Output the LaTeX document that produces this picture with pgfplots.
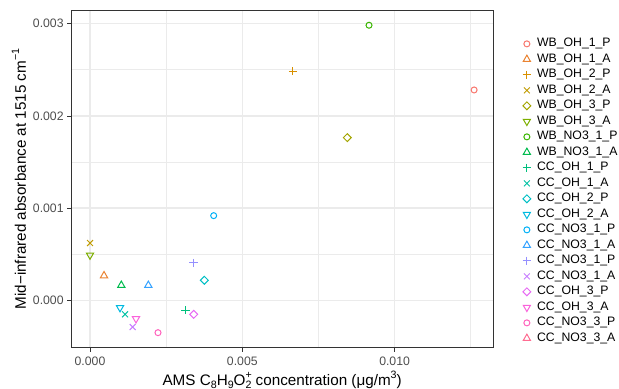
\documentclass[border=0pt]{standalone}
\usepackage{pgfplots}
\pgfplotsset{compat=1.18}
\usepackage{fontspec}
\setmainfont{Liberation Sans}
\definecolor{c1}{HTML}{F8766D}
\definecolor{c2}{HTML}{EA8331}
\definecolor{c3}{HTML}{D89000}
\definecolor{c4}{HTML}{C09B00}
\definecolor{c5}{HTML}{A3A500}
\definecolor{c6}{HTML}{7CAE00}
\definecolor{c7}{HTML}{39B600}
\definecolor{c8}{HTML}{00BB4E}
\definecolor{c9}{HTML}{00BF7D}
\definecolor{c10}{HTML}{00C1A3}
\definecolor{c11}{HTML}{00BFC4}
\definecolor{c12}{HTML}{00BAE0}
\definecolor{c13}{HTML}{00B0F6}
\definecolor{c14}{HTML}{35A2FF}
\definecolor{c15}{HTML}{9590FF}
\definecolor{c16}{HTML}{C77CFF}
\definecolor{c17}{HTML}{E76BF3}
\definecolor{c18}{HTML}{FA62DB}
\definecolor{c19}{HTML}{FF62BC}
\definecolor{c20}{HTML}{FF6C91}
\definecolor{grid92}{HTML}{EBEBEB}
\definecolor{grey20}{HTML}{333333}
\definecolor{grey30}{HTML}{4D4D4D}
\newcommand\subs[1]{\raisebox{-0.35ex}{\scalebox{0.7}{#1}}}
\newcommand\sups[1]{\raisebox{0.85ex}{\scalebox{0.7}{#1}}}
\pgfplotsset{
  mO/.style={only marks, mark=o, mark size=3bp, line width=1bp, color=#1, mark options={draw=#1, solid}},
  mT/.style={only marks, mark=triangle, mark size=4.2bp, line width=1bp, color=#1, mark options={draw=#1, solid}},
  mP/.style={only marks, mark=+, mark size=4.2bp, line width=1bp, color=#1, mark options={draw=#1, solid}},
  mX/.style={only marks, mark=x, mark size=4.2bp, line width=1bp, color=#1, mark options={draw=#1, solid}},
  mD/.style={only marks, mark=square, mark size=2.8bp, line width=1bp, color=#1, mark options={draw=#1, solid, rotate=45}},
  mV/.style={only marks, mark=triangle, mark size=4.2bp, line width=1bp, color=#1, mark options={draw=#1, solid, rotate=180}},
}
\begin{document}
\begin{tikzpicture}
\begin{axis}[
  at={(71bp,41.3bp)}, anchor=south west,
  scale only axis, width=422.3bp, height=337.4bp,
  xmin=-0.000624, xmax=0.01324, ymin=-0.000514, ymax=0.003145,
  scaled x ticks=false, scaled y ticks=false,
  xtick={0,0.005,0.01}, xticklabels={0.000,0.005,0.010},
  ytick={0,0.001,0.002,0.003}, yticklabels={0.000,0.001,0.002,0.003},
  minor xtick={0.0025,0.0075,0.0125}, minor ytick={0.0005,0.0015,0.0025},
  grid=both,
  major grid style={color=grid92, line width=1.3bp},
  minor grid style={color=grid92, line width=0.65bp},
  minor tick length=0pt, major tick length=3.85bp,
  tick align=outside, tick pos=left,
  major tick style={color=grey20, line width=0.7bp},
  axis line style={color=grey20, line width=1bp},
  ticklabel style={font=\fontsize{12.3}{14}\selectfont, color=grey30},
  xticklabel style={yshift=-2bp},
  /pgf/number format/assume math mode=true,
  xlabel={AMS C\subs{8}H\subs{9}O\makebox[0pt][l]{\sups{+}}\subs{2} concentration (μg/m\sups{3})},
  ylabel={Mid−infrared absorbance at 1515 cm\sups{−1}},
  label style={font=\fontsize{15.3}{17}\selectfont, color=black},
  xlabel style={yshift=1.5bp},
  ylabel style={yshift=0bp},
  legend style={at={(1.062,0.93)}, anchor=north west, draw=none, fill=none,
    font=\fontsize{12.3}{14}\selectfont, row sep=0pt, column sep=5bp,
    nodes={inner sep=1bp, text height=9.5bp, text depth=4bp},
    legend cell align=left},
  legend image code/.code={\draw[#1] plot coordinates {(0.1cm,0cm)};},
]
\addplot[mO=c1]  coordinates {(0.01261,0.002281)}; \addlegendentry{WB\_OH\_1\_P}
\addplot[mT=c2]  coordinates {(0.00046,0.000267)}; \addlegendentry{WB\_OH\_1\_A}
\addplot[mP=c3]  coordinates {(0.006664,0.002484)}; \addlegendentry{WB\_OH\_2\_P}
\addplot[mX=c4]  coordinates {(0.0,0.000621)}; \addlegendentry{WB\_OH\_2\_A}
\addplot[mD=c5]  coordinates {(0.008448,0.001764)}; \addlegendentry{WB\_OH\_3\_P}
\addplot[mV=c6]  coordinates {(0.0,0.000490)}; \addlegendentry{WB\_OH\_3\_A}
\addplot[mO=c7]  coordinates {(0.00916,0.002983)}; \addlegendentry{WB\_NO3\_1\_P}
\addplot[mT=c8]  coordinates {(0.001028,0.000163)}; \addlegendentry{WB\_NO3\_1\_A}
\addplot[mP=c9]  coordinates {(0.00313,-0.000108)}; \addlegendentry{CC\_OH\_1\_P}
\addplot[mX=c10] coordinates {(0.00115,-0.000152)}; \addlegendentry{CC\_OH\_1\_A}
\addplot[mD=c11] coordinates {(0.003753,0.000217)}; \addlegendentry{CC\_OH\_2\_P}
\addplot[mV=c12] coordinates {(0.000985,-0.000080)}; \addlegendentry{CC\_OH\_2\_A}
\addplot[mO=c13] coordinates {(0.00406,0.000918)}; \addlegendentry{CC\_NO3\_1\_P}
\addplot[mT=c14] coordinates {(0.001915,0.000163)}; \addlegendentry{CC\_NO3\_1\_A}
\addplot[mP=c15] coordinates {(0.003404,0.000405)}; \addlegendentry{CC\_NO3\_1\_P}
\addplot[mX=c16] coordinates {(0.0014,-0.00029)}; \addlegendentry{CC\_NO3\_1\_A}
\addplot[mD=c17] coordinates {(0.003404,-0.000152)}; \addlegendentry{CC\_OH\_3\_P}
\addplot[mV=c18] coordinates {(0.00151,-0.000200)}; \addlegendentry{CC\_OH\_3\_A}
\addplot[mO=c19] coordinates {(0.002232,-0.000351)}; \addlegendentry{CC\_NO3\_3\_P}
\addlegendimage{mT=c20}\addlegendentry{CC\_NO3\_3\_A}
\end{axis}
\pgfresetboundingbox
\path[use as bounding box] (0,0) rectangle (619bp,389bp);
\end{tikzpicture}
\end{document}
